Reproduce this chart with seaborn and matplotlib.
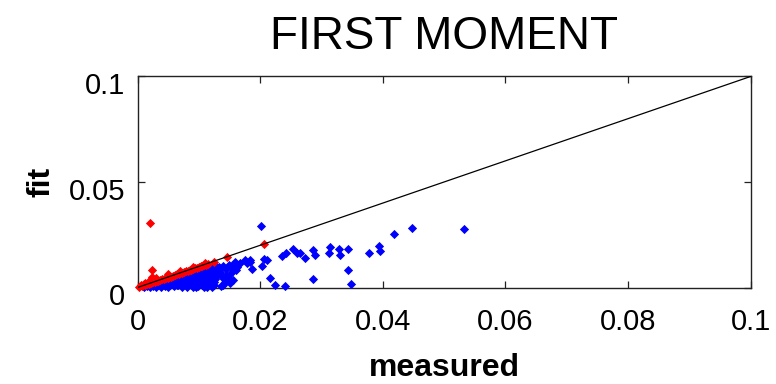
import matplotlib
matplotlib.use("Agg")
import matplotlib.pyplot as plt
import matplotlib.transforms as mtransforms
import numpy as np
import pandas as pd
import seaborn as sns

# Measured vs fitted first moment, two groups of samples
red_measured = [0.0003, 0.0008, 0.0012, 0.0015, 0.0019, 0.0022, 0.0024, 0.0024, 0.0021,
                0.0026, 0.0029, 0.0031, 0.0034, 0.0037, 0.0040, 0.0043, 0.0046, 0.0049,
                0.0052, 0.0055, 0.0058, 0.0061, 0.0064, 0.0067, 0.0070, 0.0073, 0.0076,
                0.0079, 0.0082, 0.0085, 0.0088, 0.0091, 0.0094, 0.0097, 0.0100, 0.0103,
                0.0106, 0.0109, 0.0112, 0.0115, 0.0146, 0.0207, 0.0010, 0.0018, 0.0030,
                0.0050, 0.0070, 0.0090, 0.0110, 0.0125, 0.0005, 0.0013]
red_fit = [0.0004, 0.0006, 0.0011, 0.0016, 0.0017, 0.0021, 0.0083, 0.0050, 0.0304,
           0.0024, 0.0028, 0.0030, 0.0031, 0.0036, 0.0038, 0.0041, 0.0045, 0.0046,
           0.0051, 0.0052, 0.0056, 0.0059, 0.0062, 0.0064, 0.0068, 0.0071, 0.0073,
           0.0077, 0.0079, 0.0083, 0.0085, 0.0088, 0.0092, 0.0094, 0.0097, 0.0100,
           0.0102, 0.0106, 0.0108, 0.0111, 0.0146, 0.0206, 0.0018, 0.0030, 0.0045,
           0.0062, 0.0080, 0.0098, 0.0117, 0.0122, 0.0012, 0.0020]

blue_measured = [0.0010, 0.0015, 0.0020, 0.0020, 0.0025, 0.0028, 0.0030, 0.0033, 0.0035,
                 0.0038, 0.0040, 0.0042, 0.0045, 0.0047, 0.0050, 0.0050, 0.0053, 0.0055,
                 0.0057, 0.0060, 0.0060, 0.0062, 0.0064, 0.0066, 0.0068, 0.0070, 0.0071,
                 0.0073, 0.0075, 0.0076, 0.0078, 0.0079, 0.0081, 0.0083, 0.0084, 0.0086,
                 0.0087, 0.0089, 0.0090, 0.0091, 0.0092, 0.0094, 0.0095, 0.0097, 0.0098,
                 0.0099, 0.0100, 0.0102, 0.0103, 0.0105, 0.0106, 0.0107, 0.0109, 0.0110,
                 0.0111, 0.0113, 0.0114, 0.0116, 0.0117, 0.0119, 0.0120, 0.0121, 0.0124,
                 0.0125, 0.0127, 0.0128, 0.0130, 0.0131, 0.0133, 0.0135, 0.0137, 0.0139,
                 0.0140, 0.0143, 0.0145, 0.0148, 0.0150, 0.0152, 0.0154, 0.0157, 0.0159,
                 0.0163, 0.0168, 0.0140, 0.0151, 0.0160, 0.0175, 0.0178, 0.0184, 0.0184,
                 0.0186, 0.0201, 0.0206, 0.0203, 0.0212, 0.0216, 0.0224, 0.0240, 0.0235,
                 0.0243, 0.0253, 0.0260, 0.0265, 0.0273, 0.0287, 0.0290, 0.0287, 0.0314,
                 0.0313, 0.0328, 0.0330, 0.0344, 0.0344, 0.0348, 0.0377, 0.0394, 0.0396,
                 0.0419, 0.0448, 0.0533, 0.0065, 0.0080, 0.0095, 0.0108, 0.0122, 0.0136,
                 0.0145, 0.0155, 0.0112, 0.0126]
blue_fit = [0.0003, 0.0008, 0.0002, 0.0012, 0.0006, 0.0018, 0.0001, 0.0010, 0.0024,
            0.0004, 0.0016, 0.0030, 0.0008, 0.0022, 0.0001, 0.0036, 0.0014, 0.0028,
            0.0042, 0.0005, 0.0020, 0.0034, 0.0048, 0.0012, 0.0026, 0.0040, 0.0054,
            0.0002, 0.0018, 0.0032, 0.0046, 0.0060, 0.0008, 0.0024, 0.0038, 0.0052,
            0.0066, 0.0014, 0.0001, 0.0030, 0.0044, 0.0058, 0.0072, 0.0020, 0.0006,
            0.0036, 0.0050, 0.0064, 0.0078, 0.0012, 0.0028, 0.0042, 0.0056, 0.0070,
            0.0084, 0.0004, 0.0018, 0.0034, 0.0048, 0.0062, 0.0076, 0.0090, 0.0010,
            0.0026, 0.0040, 0.0054, 0.0068, 0.0082, 0.0096, 0.0075, 0.0060, 0.0045,
            0.0100, 0.0027, 0.0088, 0.0044, 0.0105, 0.0070, 0.0091, 0.0110, 0.0122,
            0.0098, 0.0115, 0.0014, 0.0020, 0.0085, 0.0130, 0.0115, 0.0122, 0.0130,
            0.0086, 0.0291, 0.0134, 0.0102, 0.0130, 0.0044, 0.0012, 0.0009, 0.0149,
            0.0162, 0.0181, 0.0162, 0.0165, 0.0138, 0.0178, 0.0154, 0.0039, 0.0193,
            0.0165, 0.0181, 0.0154, 0.0181, 0.0083, 0.0017, 0.0162, 0.0198, 0.0175,
            0.0254, 0.0281, 0.0276, 0.0010, 0.0003, 0.0002, 0.0002, 0.0003, 0.0008,
            0.0060, 0.0035, 0.0094, 0.0108]

identity_line = [0.0, 0.1]
x_ticks = [0, 0.02, 0.04, 0.06, 0.08, 0.1]
x_tick_labels = ["0", "0.02", "0.04", "0.06", "0.08", "0.1"]
y_ticks = [0, 0.05, 0.1]
y_tick_labels = ["0", "0.05", "0.1"]

sns.set_theme(style="white")
plt.rcParams["font.family"] = ["Liberation Sans", "DejaVu Sans"]
plt.rcParams["text.color"] = "black"
plt.rcParams["axes.labelcolor"] = "black"

fig = plt.figure(figsize=(7.76, 3.84), dpi=100)
ax = fig.add_axes([0.1772, 0.2513, 0.7900, 0.5495])

blue_df = pd.DataFrame({"measured": blue_measured, "fit": blue_fit})
red_df = pd.DataFrame({"measured": red_measured, "fit": red_fit})

sns.scatterplot(data=blue_df, x="measured", y="fit", ax=ax, color="#0000ff",
                marker="D", s=22, linewidth=0, zorder=3, clip_on=False)
sns.scatterplot(data=red_df, x="measured", y="fit", ax=ax, color="#ff0000",
                marker="D", s=22, linewidth=0, zorder=4, clip_on=False)
sns.lineplot(x=identity_line, y=identity_line, ax=ax, color="black",
             linewidth=0.9, zorder=5)

ax.set_xlim(0, 0.1)
ax.set_ylim(0, 0.1)
ax.set_xticks(x_ticks)
ax.set_xticklabels(x_tick_labels)
ax.set_yticks(y_ticks)
ax.set_yticklabels(y_tick_labels)

for side in ["top", "right", "bottom", "left"]:
    ax.spines[side].set_visible(True)
    ax.spines[side].set_color("#222222")
    ax.spines[side].set_linewidth(1.0)

ax.tick_params(axis="both", which="major", direction="in", length=5, width=0.9,
               color="#222222", top=True, right=True, bottom=True, left=True,
               labelsize=21, labelcolor="black")
ax.tick_params(axis="x", pad=15)
ax.tick_params(axis="y", pad=9)

# y tick labels sit a little below their ticks
shift = mtransforms.ScaledTranslation(0, -5 / 72, fig.dpi_scale_trans)
for lbl in ax.get_yticklabels():
    lbl.set_transform(lbl.get_transform() + shift)

ax.set_xlabel("measured", fontsize=23, fontweight="bold", labelpad=12, color="black")
ax.set_ylabel("fit", fontsize=23, fontweight="bold", labelpad=9, color="black")
ax.set_title("FIRST MOMENT", fontsize=33, pad=20, color="black")
ax.grid(False)

fig.savefig("out.png", dpi=100)
